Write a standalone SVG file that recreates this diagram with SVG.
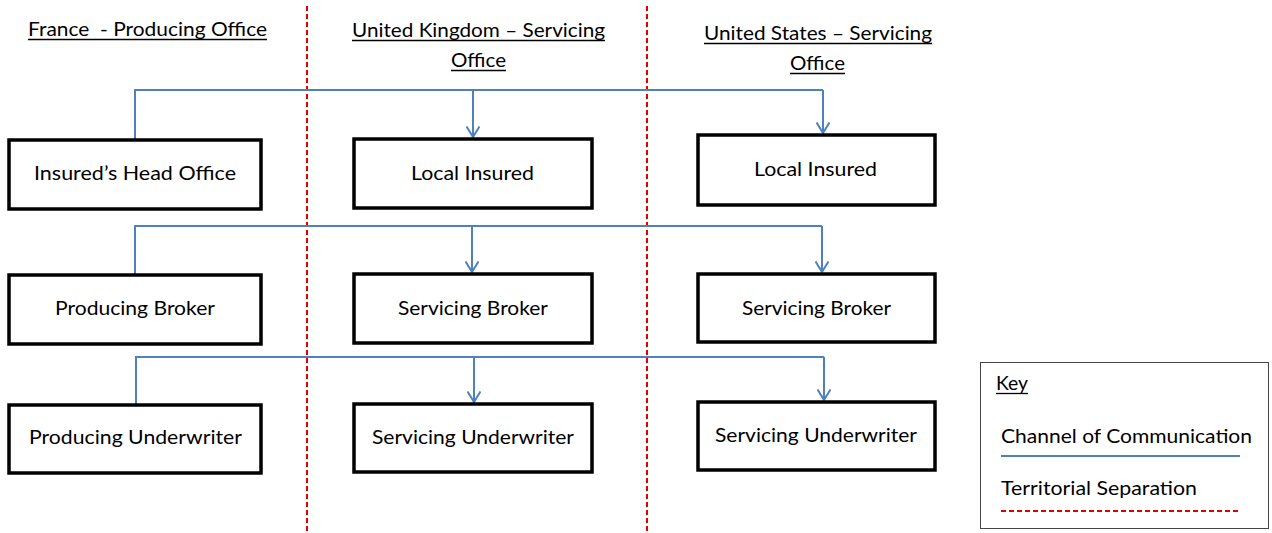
<svg xmlns="http://www.w3.org/2000/svg" width="1272" height="533" viewBox="0 0 1272 533">
  <style>
    text { font-family: Lato, "Open Sans", "Liberation Sans", sans-serif; font-size: 20px; fill: #000; }
    .box { fill: #fff; stroke: #000; stroke-width: 3.5; }
    .link { fill: none; stroke: #4f81bd; stroke-width: 2; }
    .border { fill: none; stroke: #e00000; stroke-width: 2; stroke-dasharray: 5 3; }
    .ul { stroke: #000; stroke-width: 1.3; }
  </style>
  <defs>
    <!-- open V arrowhead, drawn along +x so orient="auto" points it down the line -->
    <marker id="arrow" viewBox="0 0 12 14" refX="11" refY="7" markerWidth="12" markerHeight="14" markerUnits="userSpaceOnUse" orient="auto">
      <path d="M0.5 0.5 L11 7 L0.5 13.5" fill="none" stroke="#4f81bd" stroke-width="2"/>
    </marker>
  </defs>
  <rect width="1272" height="533" fill="#fff"/>

  <!-- territorial separation lines -->
  <g id="borders">
    <line class="border" x1="307" y1="6" x2="307" y2="533"/>
    <line class="border" x1="647" y1="6" x2="647" y2="533"/>
  </g>

  <!-- column headings -->
  <g id="headings">
    <text x="28" y="36" textLength="239" lengthAdjust="spacingAndGlyphs" xml:space="preserve">France  - Producing Office</text>
    <line class="ul" x1="28" y1="39.5" x2="267" y2="39.5"/>
    <text x="352" y="37" textLength="253" lengthAdjust="spacingAndGlyphs">United Kingdom – Servicing</text>
    <line class="ul" x1="352" y1="40.5" x2="605" y2="40.5"/>
    <text x="451" y="67" textLength="55" lengthAdjust="spacingAndGlyphs">Office</text>
    <line class="ul" x1="451" y1="70.5" x2="506" y2="70.5"/>
    <text x="704" y="40" textLength="228" lengthAdjust="spacingAndGlyphs">United States – Servicing</text>
    <line class="ul" x1="704" y1="43.5" x2="932" y2="43.5"/>
    <text x="790" y="70" textLength="55" lengthAdjust="spacingAndGlyphs">Office</text>
    <line class="ul" x1="790" y1="73.5" x2="845" y2="73.5"/>
  </g>

  <!-- channels of communication -->
  <g id="connectors">
    <path class="link" d="M135 139 V90 H823"/>
    <path class="link" d="M473 90 V137" marker-end="url(#arrow)"/>
    <path class="link" d="M823 90 V133" marker-end="url(#arrow)"/>

    <path class="link" d="M135 274 V226 H822"/>
    <path class="link" d="M472 226 V272" marker-end="url(#arrow)"/>
    <path class="link" d="M822 226 V272" marker-end="url(#arrow)"/>

    <path class="link" d="M136 404 V357 H824"/>
    <path class="link" d="M474 357 V402" marker-end="url(#arrow)"/>
    <path class="link" d="M824 357 V400" marker-end="url(#arrow)"/>
  </g>

  <!-- France -->
  <g id="fr-head-office">
    <rect class="box" x="9" y="140" width="252" height="69"/>
    <text x="34" y="180" textLength="202" lengthAdjust="spacingAndGlyphs">Insured’s Head Office</text>
  </g>
  <g id="fr-producing-broker">
    <rect class="box" x="9" y="275" width="252" height="69"/>
    <text x="55" y="315" textLength="160" lengthAdjust="spacingAndGlyphs">Producing Broker</text>
  </g>
  <g id="fr-producing-underwriter">
    <rect class="box" x="9" y="405" width="252" height="68"/>
    <text x="29" y="444" textLength="213" lengthAdjust="spacingAndGlyphs">Producing Underwriter</text>
  </g>

  <!-- United Kingdom -->
  <g id="uk-local-insured">
    <rect class="box" x="354" y="139" width="238" height="69"/>
    <text x="411" y="180" textLength="123" lengthAdjust="spacingAndGlyphs">Local Insured</text>
  </g>
  <g id="uk-servicing-broker">
    <rect class="box" x="354" y="274" width="238" height="69"/>
    <text x="398" y="315" textLength="150" lengthAdjust="spacingAndGlyphs">Servicing Broker</text>
  </g>
  <g id="uk-servicing-underwriter">
    <rect class="box" x="354" y="404" width="238" height="68"/>
    <text x="372" y="444" textLength="202" lengthAdjust="spacingAndGlyphs">Servicing Underwriter</text>
  </g>

  <!-- United States -->
  <g id="us-local-insured">
    <rect class="box" x="698" y="135" width="237" height="70"/>
    <text x="754" y="176" textLength="123" lengthAdjust="spacingAndGlyphs">Local Insured</text>
  </g>
  <g id="us-servicing-broker">
    <rect class="box" x="698" y="274" width="237" height="68"/>
    <text x="742" y="315" textLength="149" lengthAdjust="spacingAndGlyphs">Servicing Broker</text>
  </g>
  <g id="us-servicing-underwriter">
    <rect class="box" x="698" y="402" width="237" height="68"/>
    <text x="715" y="442" textLength="202" lengthAdjust="spacingAndGlyphs">Servicing Underwriter</text>
  </g>

  <!-- legend -->
  <g id="key">
    <rect x="980.5" y="362.5" width="288" height="166" fill="#fff" stroke="#444" stroke-width="1"/>
    <text x="996" y="390" textLength="32" lengthAdjust="spacingAndGlyphs">Key</text>
    <line class="ul" x1="996" y1="393.5" x2="1028" y2="393.5"/>
    <text x="1001" y="443" textLength="251" lengthAdjust="spacingAndGlyphs">Channel of Communication</text>
    <line x1="1001" y1="456" x2="1240" y2="456" stroke="#4f81bd" stroke-width="2"/>
    <text x="1001" y="495" textLength="196" lengthAdjust="spacingAndGlyphs">Territorial Separation</text>
    <line x1="1001" y1="511" x2="1240" y2="511" stroke="#e00000" stroke-width="2" stroke-dasharray="5 3"/>
  </g>
</svg>
